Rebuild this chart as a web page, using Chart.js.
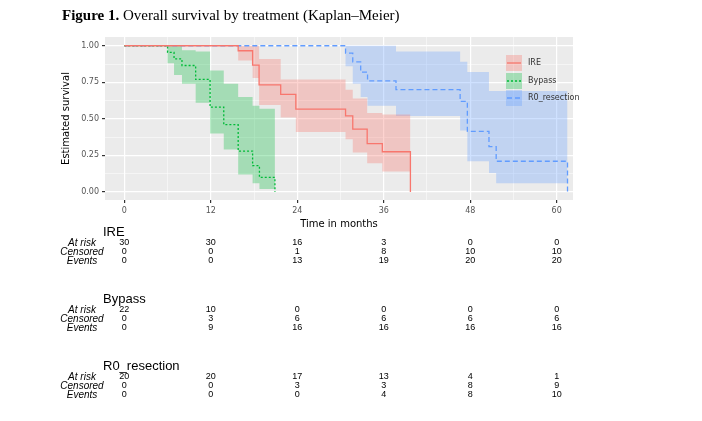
<!DOCTYPE html>
<html><head><meta charset="utf-8">
<script src="https://cdn.jsdelivr.net/npm/chart.js@4"></script>
<style>html,body{margin:0;padding:0;background:#fff}#w{width:702px;height:421px}</style>
</head><body><div id="w"><canvas id="c"></canvas></div>
<script>
const groups = ["IRE", "Bypass", "R0_resection"];
const ireTime  = [0, 15.8, 17.8, 18.7, 21.7, 23.8, 30.7, 31.7, 33.7, 35.8, 39.7];
const ireSurv  = [1, 0.966, 0.868, 0.733, 0.667, 0.567, 0.52, 0.43, 0.33, 0.275, 0];
const ireUp    = [1, 1, 1, 0.91, 0.77, 0.77, 0.70, 0.64, 0.54, 0.53, 0.53];
const ireLo    = [1, 0.90, 0.78, 0.595, 0.51, 0.41, 0.36, 0.27, 0.196, 0.14, 0.14];
const byTime   = [0, 6, 6.9, 8, 9.9, 11.9, 13.8, 15.8, 17.8, 18.75, 20.9];
const bySurv   = [1, 0.955, 0.91, 0.865, 0.77, 0.58, 0.46, 0.28, 0.18, 0.10, 0];
const byUp     = [1, 1, 1, 0.97, 0.96, 0.83, 0.74, 0.65, 0.59, 0.57, 0.57];
const byLo     = [1, 0.88, 0.80, 0.74, 0.61, 0.40, 0.29, 0.12, 0.06, 0.02, 0.02];
const r0Time   = [0, 30.7, 31.7, 32.8, 33.75, 37.7, 46.6, 47.6, 50.6, 51.6, 61.5];
const r0Surv   = [1, 0.95, 0.89, 0.82, 0.76, 0.70, 0.62, 0.415, 0.31, 0.21, 0];
const r0Up     = [1, 1, 1, 1, 1, 0.96, 0.89, 0.82, 0.69, 0.69, 0.69];
const r0Lo     = [1, 0.86, 0.74, 0.65, 0.59, 0.52, 0.42, 0.21, 0.13, 0.06, 0.06];
const tableTimes = [0, 12, 24, 36, 48, 60];
const ireRisk = [30,30,16,3,0,0], ireCens = [0,0,1,8,10,10], ireEv = [0,0,13,19,20,20];
const byRisk = [22,10,0,0,0,0], byCens = [0,3,6,6,6,6], byEv = [0,9,16,16,16,16];
const r0Risk = [20,20,17,13,4,1], r0Cens = [0,0,3,3,8,9], r0Ev = [0,0,0,4,8,10];
const xTicks = [0,6,12,18,24,30,36,42,48,54,60];
const yTicks = [0,0.125,0.25,0.375,0.5,0.625,0.75,0.875,1];

const cols = ["#F8766D", "#00BA38", "#619CFF"];
const bands = ["rgba(248,118,109,0.32)", "rgba(0,186,56,0.30)", "rgba(97,156,255,0.30)"];
const dashes = [[], [2,2], [5,3]];
const pts = (t, v) => t.map((x, i) => ({x, y: v[i]}));
// explicit step points (horizontal then vertical) for band boundaries
const stepPts = (t, v) => {
  const out = [{x: t[0], y: v[0]}];
  for (let i = 1; i < t.length; i++) { out.push({x: t[i], y: v[i - 1]}); out.push({x: t[i], y: v[i]}); }
  return out;
};
const sets = [[ireTime, ireSurv, ireUp, ireLo], [byTime, bySurv, byUp, byLo], [r0Time, r0Surv, r0Up, r0Lo]];
const datasets = [];
sets.forEach((s, g) => {
  datasets.push({data: pts(s[0], s[1]), stepped: true, borderColor: cols[g], borderWidth: 1.3, borderDash: dashes[g], pointRadius: 0, fill: false});
});
sets.forEach((s, g) => {
  datasets.push({data: stepPts(s[0], s[2]), borderWidth: 0, borderColor: 'transparent', pointRadius: 0, tension: 0, fill: '+1', backgroundColor: bands[g]});
  datasets.push({data: stepPts(s[0], s[3]), borderWidth: 0, borderColor: 'transparent', pointRadius: 0, tension: 0, fill: false});
});

const isMajorX = v => v % 12 === 0;
const isMajorY = v => Math.abs(v * 4 - Math.round(v * 4)) < 1e-6;

const deco = {
  id: 'deco',
  beforeDraw(chart) {
    const {ctx, chartArea: a} = chart;
    ctx.save(); ctx.fillStyle = '#EBEBEB';
    ctx.fillRect(a.left, a.top, a.right - a.left, a.bottom - a.top); ctx.restore();
  },
  afterDraw(chart) {
    const ctx = chart.ctx, xs = chart.scales.x;
    ctx.save();
    ctx.fillStyle = '#000'; ctx.textBaseline = 'alphabetic'; ctx.textAlign = 'left';
    ctx.font = 'bold 15px "Liberation Serif"';
    ctx.fillText('Figure 1.', 62, 20);
    const w = ctx.measureText('Figure 1. ').width;
    ctx.font = '15px "Liberation Serif"';
    ctx.fillText('Overall survival by treatment (Kaplan\u2013Meier)', 62 + w, 20);
    const ly = [63, 81, 98];
    groups.forEach((g, i) => {
      ctx.fillStyle = bands[i]; ctx.fillRect(506, ly[i] - 8, 16, 16);
      ctx.strokeStyle = cols[i]; ctx.lineWidth = 1.3; ctx.setLineDash(dashes[i]);
      ctx.beginPath(); ctx.moveTo(507, ly[i]); ctx.lineTo(521, ly[i]); ctx.stroke();
      ctx.setLineDash([]);
      ctx.fillStyle = '#333'; ctx.font = '8px "DejaVu Sans"'; ctx.textBaseline = 'middle';
      ctx.fillText(g, 528, ly[i]);
    });
    const tabs = [[ireRisk, ireCens, ireEv, 232], [byRisk, byCens, byEv, 299], [r0Risk, r0Cens, r0Ev, 366]];
    const labels = ['At risk', 'Censored', 'Events'];
    tabs.forEach((t, gi) => {
      ctx.fillStyle = '#000'; ctx.textAlign = 'left'; ctx.textBaseline = 'middle';
      ctx.font = '13px "Liberation Sans"';
      ctx.fillText(groups[gi], 103, t[3]);
      for (let r = 0; r < 3; r++) {
        const y = t[3] + 11 + r * 9;
        ctx.font = 'italic 10px "Liberation Sans"'; ctx.textAlign = 'center';
        ctx.fillText(labels[r], 82, y);
        ctx.font = '9px "Liberation Sans"';
        tableTimes.forEach((tt, k) => ctx.fillText(String(t[r][k]), xs.getPixelForValue(tt), y));
      }
    });
    ctx.restore();
  }
};

new Chart(document.getElementById('c'), {
  type: 'line',
  data: {datasets},
  plugins: [deco],
  options: {
    responsive: true, maintainAspectRatio: false, animation: false,
    layout: {padding: {left: 60, top: 37, right: 129, bottom: 191}},
    plugins: {legend: {display: false}, tooltip: {enabled: false}, filler: {propagate: false}},
    scales: {
      x: {type: 'linear', min: -2.68, max: 62.26,
        afterBuildTicks: s => { s.ticks = xTicks.map(v => ({value: v})); },
        afterFit: s => { s.height = 30; },
        grid: {color: '#fff', lineWidth: c => (c.tick && isMajorX(c.tick.value)) ? 1.2 : 0.5,
          tickColor: c => (c.tick && isMajorX(c.tick.value)) ? '#333' : 'rgba(0,0,0,0)', tickLength: 3},
        border: {display: false},
        ticks: {color: '#555', font: {size: 8, family: 'DejaVu Sans'}, padding: 3, maxRotation: 0,
          callback: v => isMajorX(v) ? String(v) : ''},
        title: {display: true, text: 'Time in months', color: '#000', font: {size: 10, family: 'DejaVu Sans'}, padding: 0}
      },
      y: {type: 'linear', min: -0.055, max: 1.06,
        afterBuildTicks: s => { s.ticks = yTicks.map(v => ({value: v})); },
        afterFit: s => { s.width = 45; },
        grid: {color: '#fff', lineWidth: c => (c.tick && isMajorY(c.tick.value)) ? 1.2 : 0.5,
          tickColor: c => (c.tick && isMajorY(c.tick.value)) ? '#333' : 'rgba(0,0,0,0)', tickLength: 3},
        border: {display: false},
        ticks: {color: '#555', font: {size: 8, family: 'DejaVu Sans'}, padding: 3,
          callback: v => isMajorY(v) ? v.toFixed(2) : ''},
        title: {display: true, text: 'Estimated survival', color: '#000', font: {size: 10, family: 'DejaVu Sans'}, padding: 0}
      }
    }
  }
});
</script></body></html>
